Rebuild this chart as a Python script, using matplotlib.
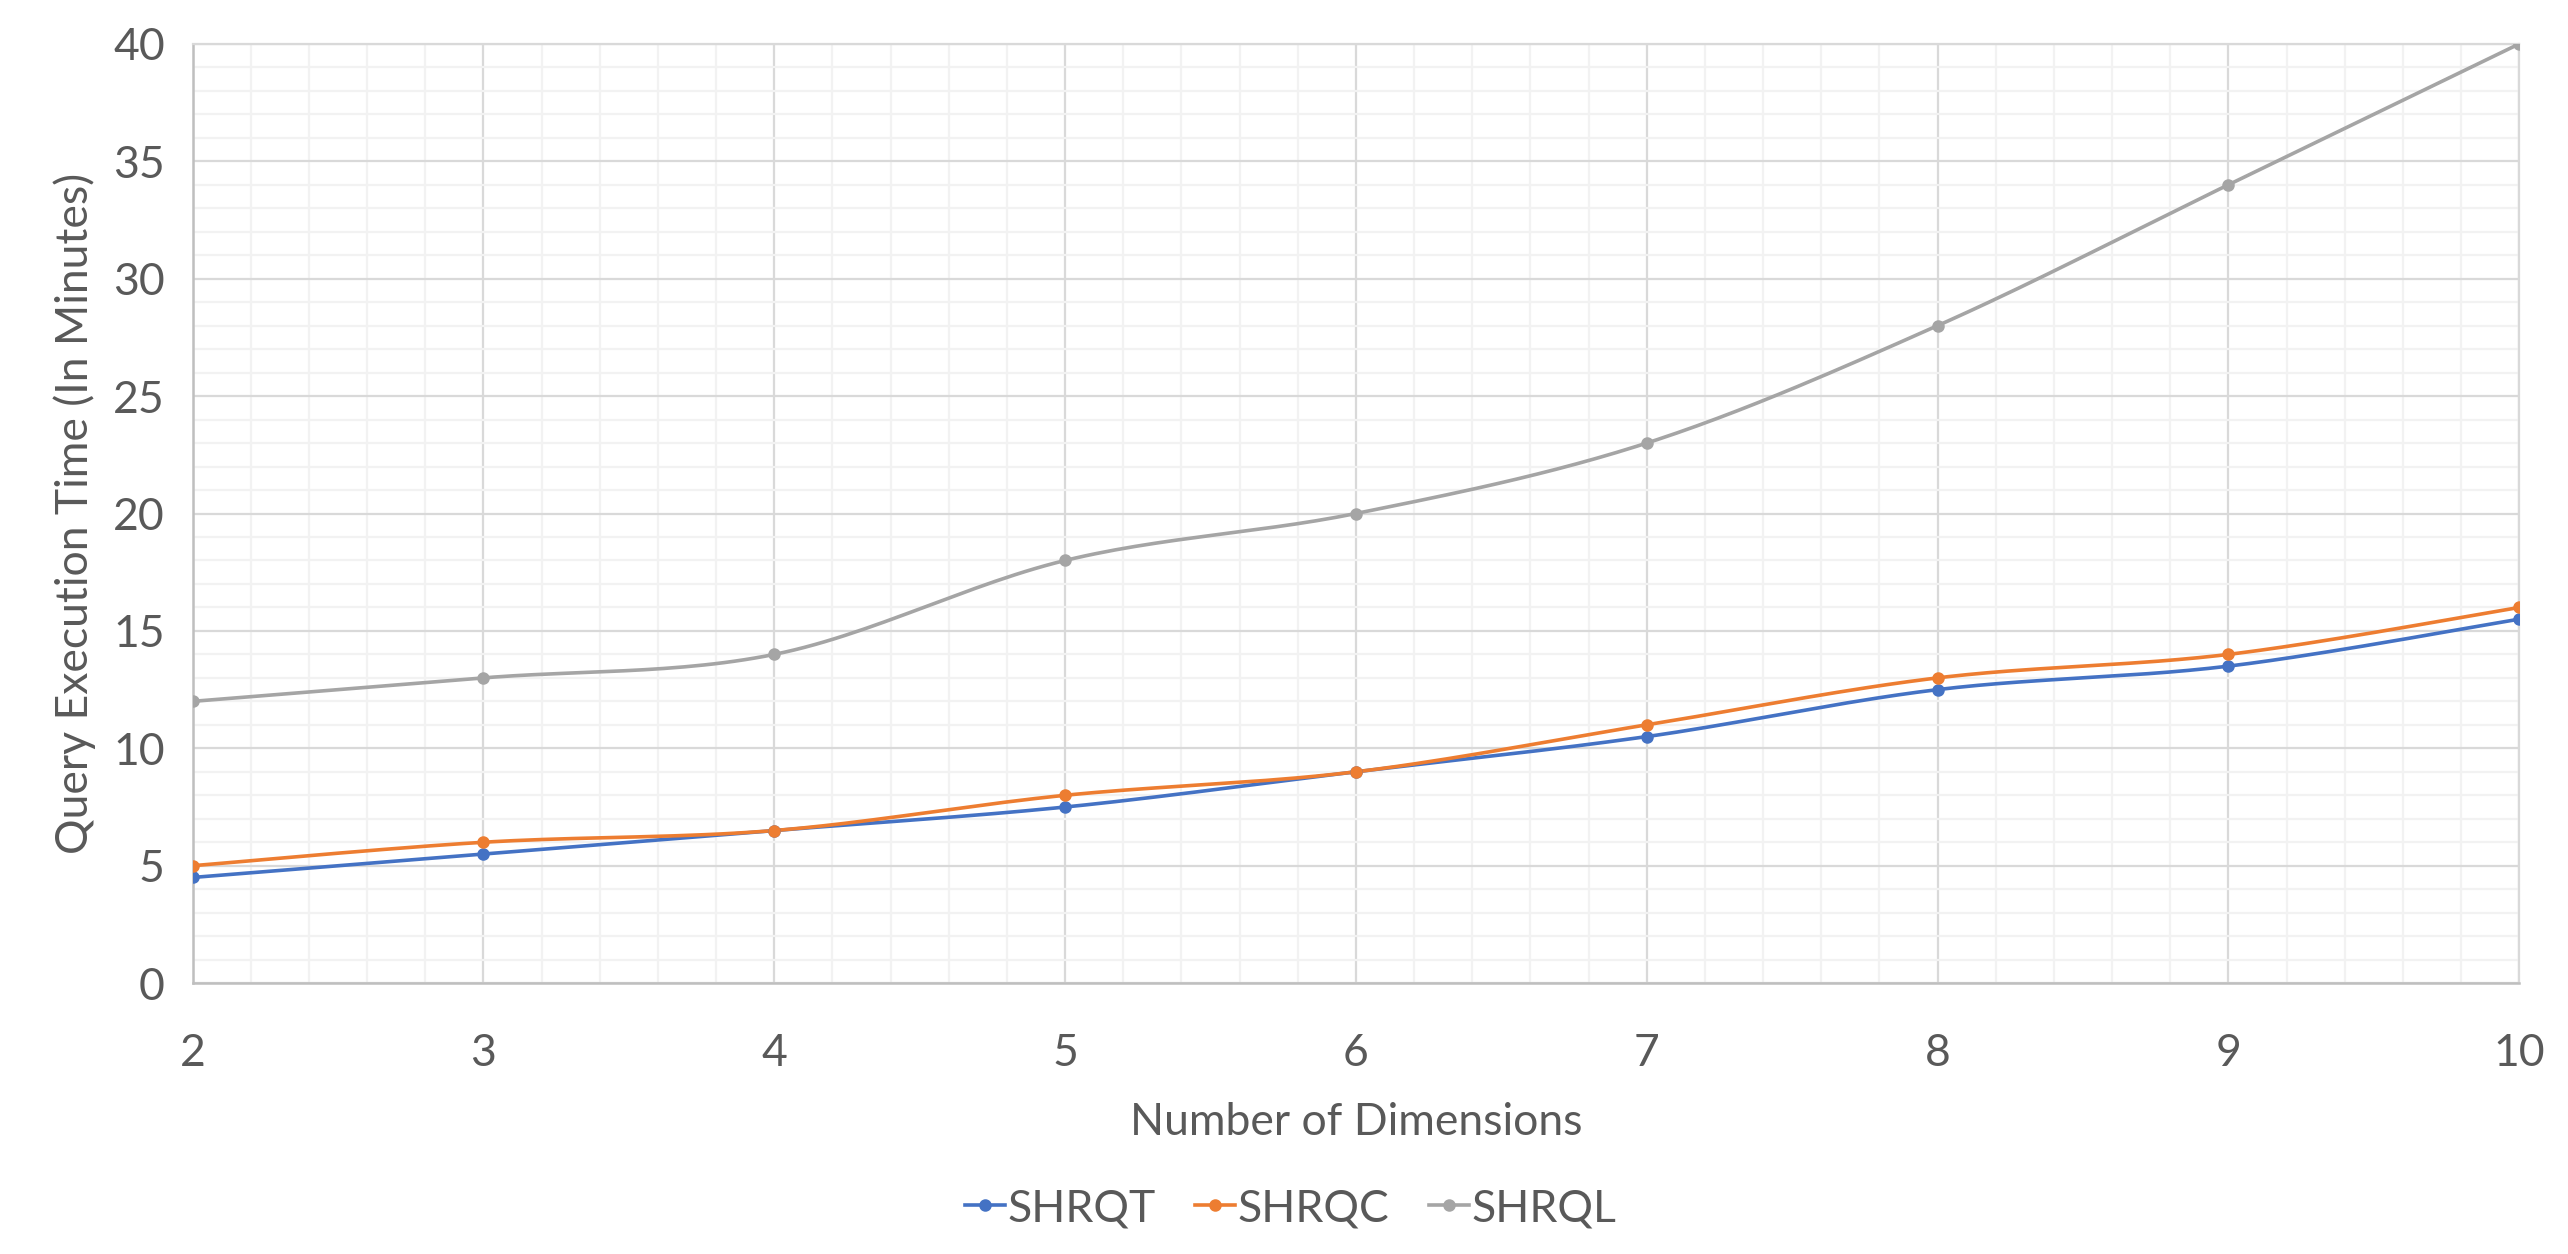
import numpy as np
import matplotlib.pyplot as plt
from matplotlib.ticker import MultipleLocator

plt.rcParams['font.family'] = ['Lato', 'DejaVu Sans']

# data
dims = [2, 3, 4, 5, 6, 7, 8, 9, 10]
shrqt = [4.5, 5.5, 6.5, 7.5, 9, 10.5, 12.5, 13.5, 15.5]
shrqc = [5, 6, 6.5, 8, 9, 11, 13, 14, 16]
shrql = [12, 13, 14, 18, 20, 23, 28, 34, 40]

series = [('SHRQT', shrqt, '#4472C4'),
          ('SHRQC', shrqc, '#ED7D31'),
          ('SHRQL', shrql, '#A5A5A5')]

text_col = '#595959'
fs = 16


# smoothed line like Excel (Catmull-Rom style bezier)
def smooth(x, y, n=30):
    x = np.asarray(x, float)
    y = np.asarray(y, float)
    px = np.concatenate([[x[0]], x, [x[-1]]])
    py = np.concatenate([[y[0]], y, [y[-1]]])
    xs, ys = [], []
    t = np.linspace(0, 1, n)
    for i in range(1, len(px) - 2):
        p0 = np.array([px[i], py[i]])
        p3 = np.array([px[i + 1], py[i + 1]])
        p1 = p0 + (np.array([px[i + 1], py[i + 1]]) - np.array([px[i - 1], py[i - 1]])) / 6
        p2 = p3 - (np.array([px[i + 2], py[i + 2]]) - np.array([px[i], py[i]])) / 6
        b = ((1 - t) ** 3)[:, None] * p0 + (3 * (1 - t) ** 2 * t)[:, None] * p1 \
            + (3 * (1 - t) * t ** 2)[:, None] * p2 + (t ** 3)[:, None] * p3
        xs.extend(b[:, 0])
        ys.extend(b[:, 1])
    return xs, ys


fig = plt.figure(figsize=(12.84, 6.27), dpi=200)
ax = fig.add_axes([0.075, 0.216, 0.906, 0.749])

for name, vals, col in series:
    sx, sy = smooth(dims, vals)
    ax.plot(sx, sy, color=col, lw=1.3, zorder=3)
    ax.plot(dims, vals, 'o', color=col, ms=3.5, zorder=4)
    ax.plot([], [], '-o', color=col, lw=1.3, ms=3.5, label=name)

ax.set_xlim(2, 10)
ax.set_ylim(0, 40)
ax.xaxis.set_major_locator(MultipleLocator(1))
ax.xaxis.set_minor_locator(MultipleLocator(0.2))
ax.yaxis.set_major_locator(MultipleLocator(5))
ax.yaxis.set_minor_locator(MultipleLocator(1))
ax.grid(which='major', color='#d9d9d9', lw=0.8, zorder=1)
ax.grid(which='minor', color='#f2f2f2', lw=0.8, zorder=0)
ax.tick_params(which='both', length=0, labelsize=fs, colors=text_col)
ax.tick_params(axis='x', pad=18)
ax.tick_params(axis='y', pad=10)

for s in ['top', 'right']:
    ax.spines[s].set_color('#d9d9d9')
    ax.spines[s].set_linewidth(0.8)
for s in ['left', 'bottom']:
    ax.spines[s].set_color('#bfbfbf')
    ax.spines[s].set_linewidth(0.9)

ax.set_xlabel('Number of Dimensions', fontsize=fs, color=text_col, labelpad=10)
ax.set_ylabel('Query Execution Time (In Minutes)', fontsize=fs, color=text_col, labelpad=6)

leg = ax.legend(loc='center', bbox_to_anchor=(0.472, -0.24), ncol=3, frameon=False,
                fontsize=fs, handlelength=0.9, handletextpad=0.05, columnspacing=0.9)
for t in leg.get_texts():
    t.set_color(text_col)

fig.savefig('out.png', dpi=200, facecolor='white')
